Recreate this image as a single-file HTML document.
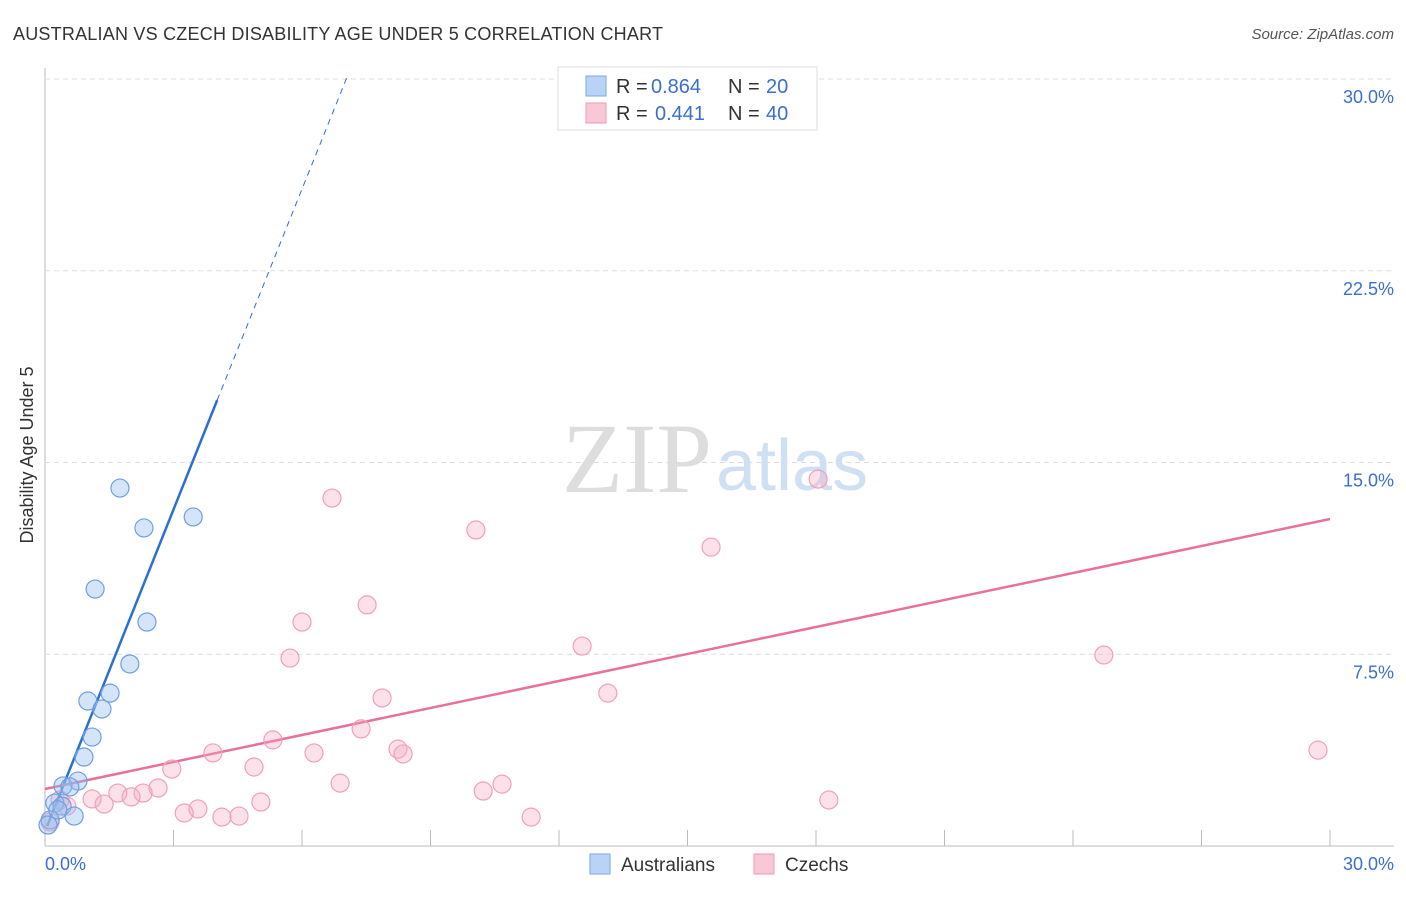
<!DOCTYPE html>
<html><head><meta charset="utf-8"><style>
body{margin:0;background:#fff;font-family:"Liberation Sans",sans-serif}
</style></head><body>
<svg width="1406" height="892" xmlns="http://www.w3.org/2000/svg">
<text x="13" y="40" font-size="18" fill="#333" textLength="650">AUSTRALIAN VS CZECH DISABILITY AGE UNDER 5 CORRELATION CHART</text>
<text x="1394" y="39" font-size="15" fill="#555" font-style="italic" text-anchor="end">Source: ZipAtlas.com</text>
<g id="grid"></g>
<text x="712" y="492" font-size="100" fill="#ddd" font-family="Liberation Serif" text-anchor="end">ZIP</text>
<text x="716" y="490" font-size="72" fill="#cfe0f5">atlas</text>
<text x="-455" y="33" transform="rotate(-90)" font-size="18" fill="#333" text-anchor="middle">Disability Age Under 5</text>
<text x="45" y="870" font-size="18" fill="#3a6fd0">0.0%</text>
<text x="1394" y="870" font-size="18" fill="#3a6fd0" text-anchor="end">30.0%</text>
<g id="lines"></g>
<g id="pts"></g>
<g>
<rect x="558" y="67" width="259" height="63" fill="#fff" stroke="#ddd"/>
<rect x="586" y="76" width="20" height="20" fill="#b8d3f5" stroke="#7aa7e6"/>
<rect x="586" y="103" width="20" height="20" fill="#f9c8d6" stroke="#ef9ab4"/>
<text x="616" y="93" font-size="20" fill="#333">R =</text>
<text x="651" y="93" font-size="20" fill="#3a6fd0">0.864</text>
<text x="728" y="93" font-size="20" fill="#333">N =</text>
<text x="766" y="93" font-size="20" fill="#3a6fd0">20</text>
<text x="616" y="120" font-size="20" fill="#333">R =</text>
<text x="655" y="120" font-size="20" fill="#3a6fd0">0.441</text>
<text x="728" y="120" font-size="20" fill="#333">N =</text>
<text x="766" y="120" font-size="20" fill="#3a6fd0">40</text>
</g>
<g>
<rect x="590" y="854" width="20" height="20" fill="#b8d3f5" stroke="#7aa7e6"/>
<text x="621" y="871" font-size="19" fill="#333">Australians</text>
<rect x="754" y="854" width="20" height="20" fill="#f9c8d6" stroke="#ef9ab4"/>
<text x="785" y="871" font-size="19" fill="#333">Czechs</text>
</g>
</svg>
<script>
const yTicks=[7.5,15,22.5,30];
const yTickLabels=["7.5%","15.0%","22.5%","30.0%"];
const xTicks=[3,6,9,12,15,18,21,24,27,30];
const ausX=[1.75,2.31,3.46,1.17,2.38,1.98,1.52,1.00,1.33,1.10,0.91,0.77,0.42,0.58,0.23,0.40,0.68,0.12,0.07,0.30];
const ausY=[14.0,12.44,12.87,10.05,8.76,7.12,5.98,5.67,5.36,4.26,3.48,2.54,2.35,2.31,1.68,1.56,1.17,1.02,0.82,1.41];
const czX=[16.79,18.05,6.70,10.06,15.55,7.52,6.00,24.72,5.72,12.54,13.14,7.87,7.38,5.32,3.92,6.28,8.24,8.36,29.72,2.96,4.88,6.89,10.67,10.23,2.64,2.29,1.70,2.01,1.10,1.38,5.04,18.30,3.57,3.25,4.13,4.53,11.35,0.51,0.35,0.12];
const czY=[28.63,14.35,13.61,12.36,11.69,9.43,8.76,7.47,7.35,7.82,5.98,5.79,4.58,4.15,3.64,3.64,3.79,3.60,3.75,3.01,3.09,2.46,2.42,2.15,2.27,2.07,2.07,1.92,1.84,1.64,1.72,1.80,1.45,1.29,1.13,1.17,1.13,1.56,1.80,0.94];
const ausTrend=[[0.05,0.78],[4.02,17.44],[7.05,30.07]];
const czTrend=[[0,2.23],[30,12.79]];
const X=v=>45+v/30*1285, Y=v=>846-v/30*767;
const NS="http://www.w3.org/2000/svg";
function mk(t,a,p){const e=document.createElementNS(NS,t);for(const k in a)e.setAttribute(k,a[k]);p.appendChild(e);return e;}
const g=document.getElementById('grid');
mk('line',{x1:45,y1:68,x2:45,y2:846,stroke:'#bbb'},g);
mk('line',{x1:45,y1:846,x2:1394,y2:846,stroke:'#bbb'},g);
yTicks.forEach((t,i)=>{
 const l=mk('line',{x1:45,y1:Y(t),x2:1394,y2:Y(t),stroke:'#ddd','stroke-dasharray':'5,4'},g);
 
 
 const tx=mk('text',{x:1394,y:Y(t)+24,'font-size':18,fill:'#3a6fd0','text-anchor':'end'},g);
 tx.textContent=yTickLabels[i];
 
 
});
xTicks.forEach(t=>{
 const l=mk('line',{x1:X(t),y1:830,x2:X(t),y2:846,stroke:'#bbb'},g);
 
 
});
const pg=document.getElementById('pts');
czX.forEach((x,i)=>{
 const c=mk('circle',{cx:X(x),cy:Y(czY[i]),r:9,fill:'rgba(246,170,195,0.35)',stroke:'#f0a0b8','stroke-width':1.2},pg);
 
 
});
ausX.forEach((x,i)=>{
 const c=mk('circle',{cx:X(x),cy:Y(ausY[i]),r:9,fill:'rgba(150,190,240,0.4)',stroke:'#6f9fe0','stroke-width':1.2},pg);
 
 
});
const lg=document.getElementById('lines');
const a=mk('line',{x1:X(ausTrend[0][0]),y1:Y(ausTrend[0][1]),x2:X(ausTrend[1][0]),y2:Y(ausTrend[1][1]),stroke:'#2a6fd6','stroke-width':2.5},lg);


const ad=mk('line',{x1:X(ausTrend[1][0]),y1:Y(ausTrend[1][1]),x2:X(ausTrend[2][0]),y2:Y(ausTrend[2][1]),stroke:'#2a6fd6','stroke-width':1,'stroke-dasharray':'6,5'},lg);


const cz=mk('line',{x1:X(czTrend[0][0]),y1:Y(czTrend[0][1]),x2:X(czTrend[1][0]),y2:Y(czTrend[1][1]),stroke:'#e8709a','stroke-width':2.5},lg);


</script>
</body></html>
